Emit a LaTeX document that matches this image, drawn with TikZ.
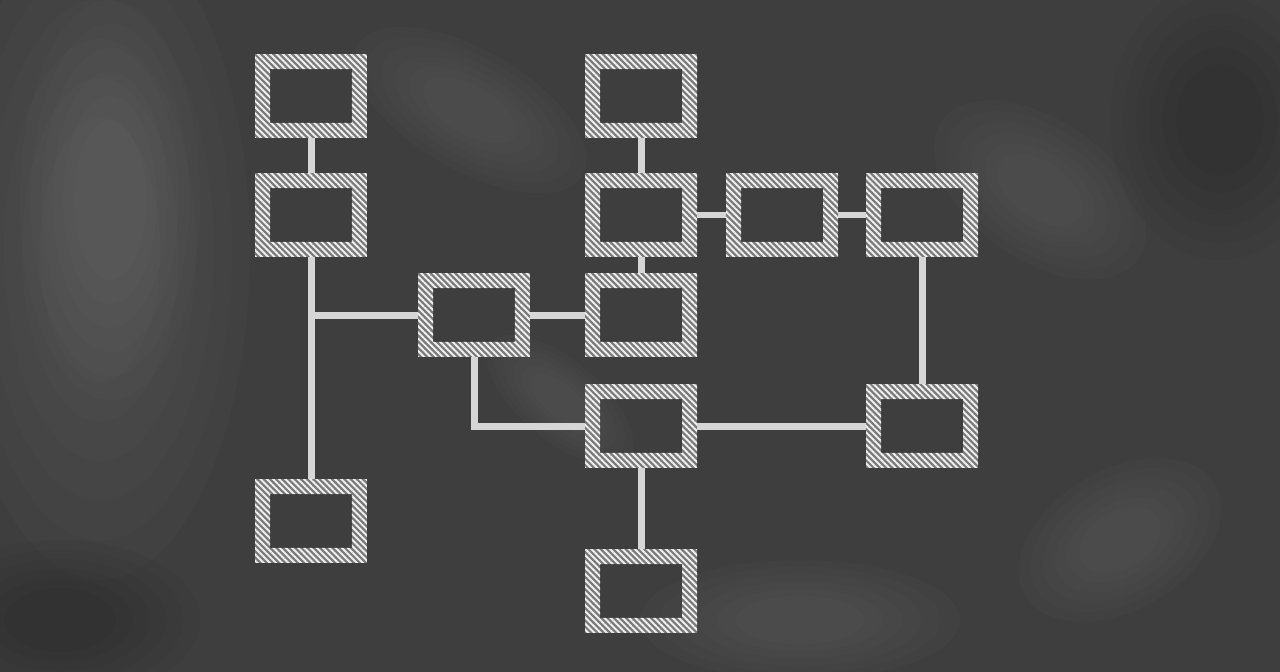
\documentclass[tikz,border=0pt]{standalone}
\usetikzlibrary{calc,patterns.meta}
\definecolor{slate}{HTML}{3E3E3E}
\definecolor{chalk}{HTML}{D6D6D6}
\definecolor{chalkband}{HTML}{7A7A7A}
\tikzset{
	chartbox/.style={draw=chalkband, line width=0.3cm, minimum width=1.94cm, minimum height=1.38cm, inner sep=0pt},
	chalkline/.style={draw=chalk, line width=0.14cm},
	chalkhatch/.style={pattern={Lines[angle=-45,distance=2.5pt,line width=1.1pt]}, pattern color=white!94!black, even odd rule},
	smudge/.style={fill=white, opacity=0.014},
	shadow/.style={fill=black, opacity=0.03},
}
% soft blob: centre, radii, angle
\def\blob[#1](#2)(#3:#4:#5){\foreach \s in {1,0.88,0.76,0.64,0.52,0.4}
	\fill[#1, rotate around={#5:(#2)}] (#2) ellipse ({\s*#3} and {\s*#4});}

\begin{document}
\begin{tikzpicture}[x=0.02cm, y=-0.02cm]
		%%%%% START %%%%%
		
		\fill[slate] (0,0) rectangle (1280,672);
		\useasboundingbox (0,0) rectangle (1280,672);
		
		% smudges on the board
		\blob[smudge](100,250)(150:330:0)
		\blob[smudge](110,200)(90:200:0)
		\blob[smudge](470,110)(130:60:-30)
		\blob[smudge](1040,190)(120:70:-35)
		\blob[smudge](1120,540)(110:70:30)
		\blob[smudge](800,620)(160:60:0)
		\blob[smudge](560,400)(90:40:-40)
		\blob[shadow](1220,120)(110:140:0)
		\blob[shadow](60,620)(140:80:0)
		
		% boxes
		\node[chartbox] (a1) at (311,96) {};
		\node[chartbox] (a2) at (311,215) {};
		\node[chartbox] (a3) at (311,521) {};
		\node[chartbox] (b1) at (474,315) {};
		\node[chartbox] (c1) at (641,96) {};
		\node[chartbox] (c2) at (641,215) {};
		\node[chartbox] (c3) at (641,315) {};
		\node[chartbox] (c4) at (641,426) {};
		\node[chartbox] (c5) at (641,591) {};
		\node[chartbox] (d1) at (782,215) {};
		\node[chartbox] (e1) at (922,215) {};
		\node[chartbox] (e2) at (922,426) {};
		
		\foreach \n in {a1,a2,a3,b1,c1,c2,c3,c4,c5,d1,e1,e2}
			\fill[chalkhatch] (\n.north west) rectangle (\n.south east)
				($(\n.north west)+(15,15)$) rectangle ($(\n.south east)+(-15,-15)$);
		
		% connectors
		\draw[chalkline] (a1) -- (a2);
		\draw[chalkline] (a2) -- (a3);
		\draw[chalkline] (b1.west) -- (b1.west -| a2.south);
		\draw[chalkline] (b1) -- (c3);
		\draw[chalkline] (c1) -- (c2);
		\draw[chalkline] (c2) -- (c3);
		\draw[chalkline] (c2) -- (d1);
		\draw[chalkline] (d1) -- (e1);
		\draw[chalkline] (e1) -- (e2);
		\draw[chalkline] (b1.south) |- (c4.west);
		\draw[chalkline] (c4) -- (e2);
		\draw[chalkline] (c4) -- (c5);
		
		%%%%% END %%%%%
	\end{tikzpicture}
\end{document}
